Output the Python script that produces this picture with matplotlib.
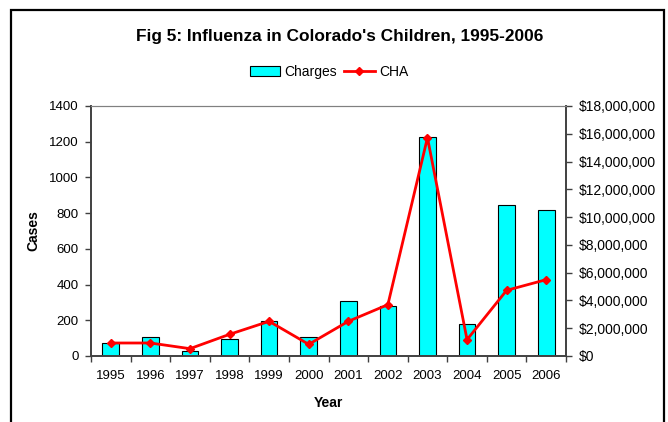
import matplotlib
matplotlib.use('Agg')
import matplotlib.pyplot as plt
import matplotlib.patches as mpatches
from matplotlib.ticker import FuncFormatter, FixedLocator
import numpy as np

plt.rcParams['font.family'] = ['Liberation Sans', 'DejaVu Sans']

# values
years = ['1995', '1996', '1997', '1998', '1999', '2000',
         '2001', '2002', '2003', '2004', '2005', '2006']
cases = [73, 108, 30, 97, 198, 108, 308, 282, 1224, 181, 843, 820]
charges = [936000, 936000, 528000, 1560000, 2496000, 840000,
           2496000, 3696000, 15720000, 1176000, 4728000, 5496000]

W, H = 668, 422
fig = plt.figure(figsize=(W / 100, H / 100), dpi=100)

# axes box in pixels: left 91, right 566, top 106, bottom 356
ax = fig.add_axes([91 / W, 1 - 356 / H, (566 - 91) / W, (356 - 106) / H])
x = np.arange(len(years))
bars = ax.bar(x, cases, width=0.42, color='#00FFFF', edgecolor='black',
              linewidth=0.8, label='Charges', zorder=2)
ax.set_xlim(-0.5, len(years) - 0.5)
ax.set_ylim(0, 1400)
ax.set_yticks(range(0, 1401, 200))

# ticks between categories, labels under the bars
ax.xaxis.set_major_locator(FixedLocator(np.arange(-0.5, len(years))))
ax.xaxis.set_major_formatter(FuncFormatter(lambda v, p: ''))
ax.xaxis.set_minor_locator(FixedLocator(x))
ax.set_xticklabels(years, minor=True)
ax.tick_params(axis='x', which='major', direction='out', length=4, width=1, color='#404040')
ax.tick_params(axis='x', which='minor', length=0, pad=10, labelsize=9.5)
ax.tick_params(axis='y', direction='out', length=4, width=1, color='#404040', pad=5, labelsize=9.5)

ax2 = ax.twinx()
line, = ax2.plot(x, charges, color='#FF0000', linewidth=2, marker='D',
                 markersize=4.5, label='CHA', zorder=3)
ax2.set_ylim(0, 18000000)
ax2.set_yticks(range(0, 18000001, 2000000))
ax2.yaxis.set_major_formatter(FuncFormatter(lambda v, p: '${:,.0f}'.format(v)))
ax2.tick_params(axis='y', direction='out', length=4, width=1, color='#404040', pad=5, labelsize=10)

for a in (ax, ax2):
    for s in ('left', 'bottom', 'right'):
        a.spines[s].set_color('#404040')
        a.spines[s].set_linewidth(1.2)
    a.spines['top'].set_color('#808080')
    a.spines['top'].set_linewidth(0.8)

ax.set_ylabel('Cases', fontsize=10, fontweight='bold', labelpad=6)
ax.set_xlabel('Year', fontsize=10, fontweight='bold', labelpad=10)

fig.text(340 / W, 1 - 36 / H, "Fig 5: Influenza in Colorado's Children, 1995-2006",
         ha='center', va='center', fontsize=12.4, fontweight='bold')

fig.legend(handles=[bars, line], loc='center', bbox_to_anchor=(329 / W, 1 - 72 / H),
           ncol=2, frameon=False, fontsize=10, handlelength=2.2, handleheight=0.7,
           columnspacing=0.5, handletextpad=0.3)

# outer chart border (open at the bottom of the picture)
border = mpatches.Rectangle((11 / W, -0.05), (664 - 11) / W, 1.05 - 10 / H,
                            transform=fig.transFigure, fill=False,
                            edgecolor='black', linewidth=1.6, clip_on=False)
fig.patches.append(border)

fig.savefig('out.png', dpi=100)
